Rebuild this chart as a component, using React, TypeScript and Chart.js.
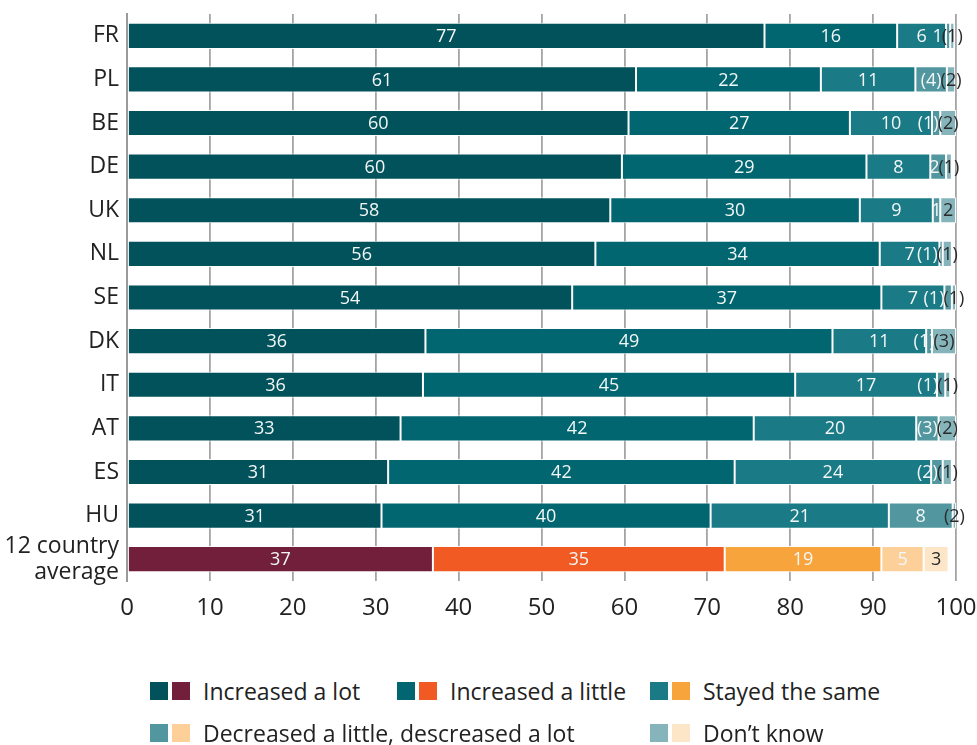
import React, { useEffect, useRef } from "react";
import { Chart, registerables } from "chart.js";

Chart.register(...registerables);

// ---------- data ----------
const categories: (string | string[])[] = [
  "FR", "PL", "BE", "DE", "UK", "NL", "SE", "DK", "IT", "AT", "ES", "HU",
  ["12 country", "average"],
];

const seriesNames = [
  "Increased a lot",
  "Increased a little",
  "Stayed the same",
  "Decreased a little, descreased a lot",
  "Don\u2019t know",
];

const increasedLot = [76.9, 61.4, 60.5, 59.7, 58.3, 56.5, 53.7, 36.0, 35.7, 33.0, 31.5, 30.7, 36.9];
const increasedLittle = [16.0, 22.3, 26.7, 29.5, 30.1, 34.3, 37.3, 49.1, 44.9, 42.6, 41.8, 39.7, 35.2];
const stayedSame = [5.9, 11.4, 9.9, 7.7, 8.8, 7.2, 7.6, 11.3, 17.1, 19.6, 23.7, 21.5, 18.9];
const decreased = [0.5, 3.8, 1.0, 1.9, 0.9, 0.4, 0.9, 0.7, 1.0, 2.7, 1.4, 7.7, 5.1];
const dontKnow = [0.5, 1.0, 1.9, 0.7, 1.9, 1.1, 0.5, 2.9, 0.6, 2.1, 1.1, 0.4, 3.0];

const lotLabels = ["77", "61", "60", "60", "58", "56", "54", "36", "36", "33", "31", "31", "37"];
const littleLabels = ["16", "22", "27", "29", "30", "34", "37", "49", "45", "42", "42", "40", "35"];
const sameLabels = ["6", "11", "10", "8", "9", "7", "7", "11", "17", "20", "24", "21", "19"];
const decLabels = ["1", "(4)", "(1)", "2", "1", "(1)", "(1)", "(1)", "(1)", "(3)", "(2)", "8", "5"];
const dkLabels = ["(1)", "(2)", "(2)", "(1)", "2", "(1)", "(1)", "(3)", "(1)", "(2)", "(1)", "(2)", "3"];

const xTicks = [0, 10, 20, 30, 40, 50, 60, 70, 80, 90, 100];

// ---------- styles ----------
const FONT = "'Open Sans', 'Noto Sans', sans-serif";
const tealColors = ["#02525c", "#026670", "#1a7a85", "#5297a0", "#85b5bb"];
const warmColors = ["#721f3b", "#f15a22", "#f7a43c", "#fdcf99", "#fde5c8"];

const seriesValues = [increasedLot, increasedLittle, stayedSame, decreased, dontKnow];
const seriesLabels = [lotLabels, littleLabels, sameLabels, decLabels, dkLabels];

const labelPlugin = {
  id: "segLabels",
  afterDatasetsDraw(chart: any) {
    const ctx = chart.ctx as CanvasRenderingContext2D;
    ctx.save();
    ctx.font = `18px ${FONT}`;
    ctx.textBaseline = "middle";
    ctx.textAlign = "left";
    const n = chart.data.labels.length;
    const nd = chart.data.datasets.length;
    for (let i = 0; i < n; i++) {
      const items: any[] = [];
      for (let d = 0; d < nd; d++) {
        const el = chart.getDatasetMeta(d).data[i];
        const text = seriesLabels[d][i];
        const w = ctx.measureText(text).width;
        const cx = (el.x + el.base) / 2;
        items.push({ text, w, left: cx - w / 2, y: el.y, d });
      }
      for (let d = nd - 2; d >= 0; d--) {
        const cur = items[d];
        const next = items[d + 1];
        if (cur.left + cur.w > next.left + 1) cur.left = next.left + 1 - cur.w;
      }
      items.forEach((it) => {
        ctx.fillStyle = it.d === nd - 1 ? "#2a2a2a" : "#f2f7f7";
        ctx.fillText(it.text, it.left, it.y + 1);
      });
    }
    ctx.restore();
  },
};

function ChartCanvas() {
  const ref = useRef<HTMLCanvasElement | null>(null);
  useEffect(() => {
    if (!ref.current) return;
    const last = categories.length - 1;
    const chart = new Chart(ref.current, {
      type: "bar",
      data: {
        labels: categories as any,
        datasets: seriesValues.map((vals, k) => ({
          label: seriesNames[k],
          data: vals,
          backgroundColor: categories.map((_, i) => (i === last ? warmColors[k] : tealColors[k])),
          borderColor: "rgba(255,255,255,0.9)",
          borderWidth: 1,
          borderSkipped: false,
          barPercentage: 0.6,
          categoryPercentage: 1,
        })),
      },
      options: {
        indexAxis: "y",
        animation: false,
        responsive: false,
        layout: { padding: { left: 0, right: 21, top: 14, bottom: 0 } },
        plugins: { legend: { display: false }, tooltip: { enabled: false } },
        scales: {
          x: {
            stacked: true,
            min: 0,
            max: 100,
            afterBuildTicks: (axis: any) => {
              axis.ticks = xTicks.map((v) => ({ value: v }));
            },
            afterFit: (axis: any) => {
              axis.height = 69;
              axis.paddingLeft = 0;
              axis.paddingRight = 0;
            },
            ticks: {
              font: { family: FONT, size: 24 },
              color: "#222",
              padding: 13,
            },
            grid: { color: "#a4a4a4", lineWidth: 1.8, drawTicks: false },
            border: { display: false },
          },
          y: {
            stacked: true,
            afterFit: (axis: any) => {
              axis.width = 127;
              axis.paddingTop = 0;
              axis.paddingBottom = 0;
            },
            ticks: {
              autoSkip: false,
              font: { family: FONT, size: 23, lineHeight: 1.15 },
              color: "#222",
              padding: 8,
            },
            grid: { display: false, drawTicks: false },
            border: { color: "#9a9a9a", width: 2 },
          },
        },
      } as any,
      plugins: [labelPlugin],
    });
    return () => chart.destroy();
  }, []);
  return <canvas ref={ref} width={977} height={650} style={{ position: "absolute", left: 0, top: 0 }} />;
}

const legendCols = [150, 397, 650];
const legendRows = [691, 733];
const legendLayout = [
  { k: 0, col: 0, row: 0 },
  { k: 1, col: 1, row: 0 },
  { k: 2, col: 2, row: 0 },
  { k: 3, col: 0, row: 1 },
  { k: 4, col: 2, row: 1 },
];

export default function App() {
  return (
    <div style={{ position: "fixed", left: 0, top: 0, width: 977, height: 745, background: "#fff" }}>
      <ChartCanvas />
      {legendLayout.map((it) => (
        <div
          key={it.k}
          style={{
            position: "absolute",
            left: legendCols[it.col],
            top: legendRows[it.row] - 16,
            height: 32,
            display: "flex",
            alignItems: "center",
            whiteSpace: "nowrap",
            fontFamily: FONT,
            fontSize: 23,
            color: "#222",
          }}
        >
          <span style={{ width: 18, height: 18, background: tealColors[it.k], display: "inline-block" }} />
          <span style={{ width: 18, height: 18, background: warmColors[it.k], display: "inline-block", marginLeft: 4 }} />
          <span style={{ marginLeft: 13 }}>{seriesNames[it.k]}</span>
        </div>
      ))}
    </div>
  );
}
